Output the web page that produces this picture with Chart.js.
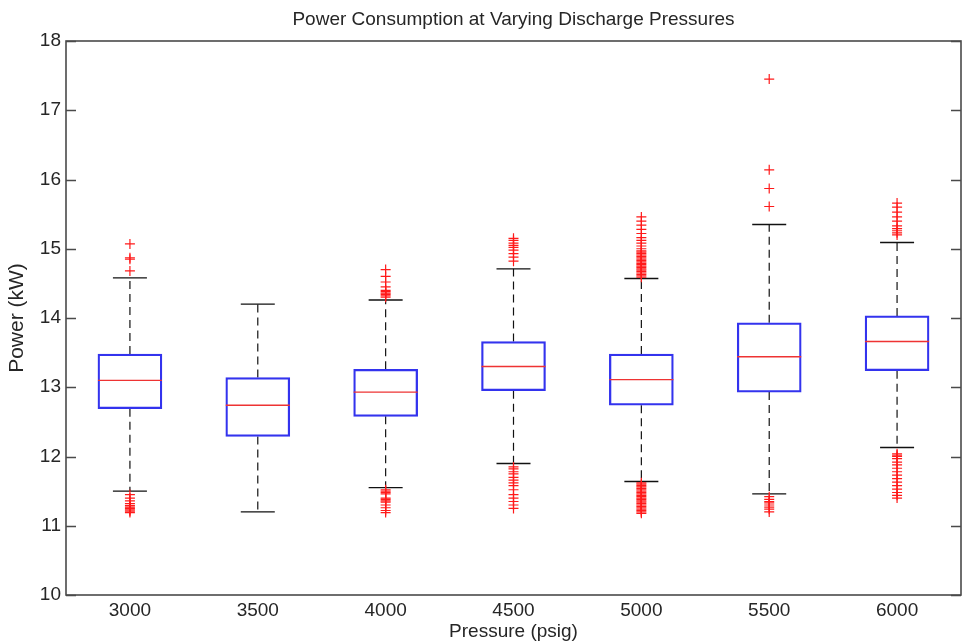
<!DOCTYPE html>
<html>
<head>
<meta charset="utf-8">
<script src="https://cdn.jsdelivr.net/npm/chart.js@4.4.0/dist/chart.umd.min.js"></script>
<style>
html,body{margin:0;padding:0;background:#fff;}
#wrap{width:966px;height:643px;}
</style>
</head>
<body>
<div id="wrap"><canvas id="c" width="966" height="643"></canvas></div>
<script>
const categories = ['3000','3500','4000','4500','5000','5500','6000'];
const q1 =      [12.69, 12.29, 12.58, 12.95, 12.74, 12.93, 13.24];
const medians = [13.10, 12.74, 12.93, 13.30, 13.11, 13.44, 13.66];
const q3 =      [13.48, 13.14, 13.26, 13.66, 13.48, 13.93, 14.03];
const whiskerLow =  [11.50, 11.20, 11.55, 11.90, 11.64, 11.46, 12.13];
const whiskerHigh = [14.58, 14.20, 14.26, 14.71, 14.57, 15.35, 15.09];
const outliers3000 = [15.07, 14.87, 14.85, 14.68, 11.45, 11.40, 11.36, 11.32, 11.29, 11.27, 11.25, 11.23, 11.21, 11.19];
const outliers3500 = [];
const outliers4000 = [14.70, 14.60, 14.52, 14.45, 14.40, 14.38, 14.36, 14.34, 14.32, 14.30, 11.52, 11.50, 11.48, 11.46, 11.40, 11.38, 11.36, 11.34, 11.30, 11.26, 11.22, 11.19];
const outliers4500 = [15.15, 15.12, 15.08, 15.05, 15.02, 14.98, 14.93, 14.88, 14.82, 11.85, 11.82, 11.78, 11.75, 11.70, 11.66, 11.62, 11.58, 11.52, 11.45, 11.40, 11.35, 11.30, 11.25];
const outliers5000 = [15.46, 15.40, 15.34, 15.28, 15.22, 15.16, 15.12, 15.08, 15.04, 15.00, 14.97, 14.95, 14.93, 14.91, 14.89, 14.87, 14.85, 14.83, 14.81, 14.79, 14.77, 14.75, 14.73, 14.71, 14.69, 14.67, 14.65, 14.63, 14.61, 14.59,
  11.62, 11.60, 11.58, 11.56, 11.54, 11.52, 11.50, 11.48, 11.46, 11.44, 11.42, 11.40, 11.38, 11.36, 11.34, 11.32, 11.30, 11.28, 11.26, 11.24, 11.22, 11.20, 11.18];
const outliers5500 = [17.45, 16.14, 15.87, 15.61, 11.42, 11.38, 11.35, 11.33, 11.30, 11.27, 11.24, 11.20];
const outliers6000 = [15.66, 15.60, 15.53, 15.46, 15.40, 15.33, 15.29, 15.26, 15.23, 15.20, 12.04, 12.02, 12.00, 11.97, 11.92, 11.88, 11.83, 11.78, 11.73, 11.68, 11.63, 11.58, 11.53, 11.48, 11.44, 11.40];
const yTicks = [10, 11, 12, 13, 14, 15, 16, 17, 18];
const titleText = 'Power Consumption at Varying Discharge Pressures';

const allOutliers = [outliers3000, outliers3500, outliers4000, outliers4500, outliers5000, outliers5500, outliers6000];

function segs(from, to) {
  const d = [];
  categories.forEach((c, i) => {
    d.push({x: c, y: from[i]});
    d.push({x: c, y: to[i]});
    d.push({x: c, y: null});
  });
  return d;
}
const outlierPts = [];
allOutliers.forEach((arr, i) => arr.forEach(v => outlierPts.push({x: categories[i], y: v})));

const FONT = "'Liberation Sans', Arial, sans-serif";
const TXT = '#262626';

const frame = {
  id: 'frame',
  afterDatasetsDraw(chart) {
    const {ctx, chartArea: a, scales} = chart;
    ctx.save();
    ctx.strokeStyle = '#4a4a4a';
    ctx.lineWidth = 1.6;
    ctx.strokeRect(a.left, a.top, a.right - a.left, a.bottom - a.top);
    ctx.beginPath();
    scales.y.ticks.forEach(t => {
      const py = Math.round(scales.y.getPixelForValue(t.value)) + 0.5;
      ctx.moveTo(a.left, py); ctx.lineTo(a.left + 10, py);
      ctx.moveTo(a.right, py); ctx.lineTo(a.right - 10, py);
    });
    ctx.stroke();
    ctx.fillStyle = TXT;
    ctx.font = '19px ' + FONT;
    ctx.textAlign = 'center';
    ctx.textBaseline = 'middle';
    ctx.fillText(titleText, (a.left + a.right) / 2, 20);
    ctx.restore();
  }
};

new Chart(document.getElementById('c'), {
  type: 'bar',
  data: {
    labels: categories,
    datasets: [
      {
        type: 'line',
        data: segs(q3, whiskerHigh),
        borderColor: '#111', borderWidth: 1.2, borderDash: [8, 5],
        pointRadius: 0, spanGaps: false, order: 5
      },
      {
        type: 'line',
        data: segs(q1, whiskerLow),
        borderColor: '#111', borderWidth: 1.2, borderDash: [8, 5],
        pointRadius: 0, spanGaps: false, order: 5
      },
      {
        type: 'bar',
        data: categories.map((c, i) => [q1[i], q3[i]]),
        backgroundColor: 'rgba(0,0,0,0)',
        borderColor: '#3333ee', borderWidth: 1.6, borderSkipped: false,
        barThickness: 64, order: 4
      },
      {
        type: 'line',
        data: categories.map((c, i) => ({x: c, y: medians[i]})),
        showLine: false, pointStyle: 'line', pointRadius: 32,
        borderColor: '#ee3333', borderWidth: 1.4, order: 3
      },
      {
        type: 'line',
        data: categories.map((c, i) => ({x: c, y: whiskerHigh[i]})).concat(categories.map((c, i) => ({x: c, y: whiskerLow[i]}))),
        showLine: false, pointStyle: 'line', pointRadius: 17,
        borderColor: '#111', borderWidth: 1.4, order: 2
      },
      {
        type: 'line',
        data: outlierPts,
        showLine: false, pointStyle: 'cross', pointRadius: 5,
        borderColor: '#ff1a1a', borderWidth: 1.2, order: 1
      }
    ]
  },
  options: {
    responsive: false,
    animation: false,
    events: [],
    layout: {autoPadding: false, padding: {left: 0, right: 5, top: 41, bottom: 0}},
    plugins: {
      legend: {display: false},
      tooltip: {enabled: false},
      title: {display: false}
    },
    scales: {
      x: {
        type: 'category',
        offset: true,
        grid: {display: false, drawTicks: false},
        border: {display: false},
        ticks: {color: TXT, font: {family: FONT, size: 19}, padding: 4, maxRotation: 0},
        title: {display: true, text: 'Pressure (psig)', color: TXT, font: {family: FONT, size: 19}, padding: {top: 0, bottom: 0}},
        afterFit(s) { s.height = 48; s.paddingLeft = 0; s.paddingRight = 0; }
      },
      y: {
        min: 10, max: 18,
        afterBuildTicks(s) { s.ticks = yTicks.map(v => ({value: v})); },
        grid: {display: false, drawTicks: false},
        border: {display: false},
        ticks: {color: TXT, font: {family: FONT, size: 19}, padding: 5},
        title: {display: true, text: 'Power (kW)', color: TXT, font: {family: FONT, size: 21}, padding: {top: 5, bottom: 0}},
        afterFit(s) { s.width = 66; s.paddingTop = 0; s.paddingBottom = 0; }
      }
    }
  },
  plugins: [frame]
});
</script>
</body>
</html>
